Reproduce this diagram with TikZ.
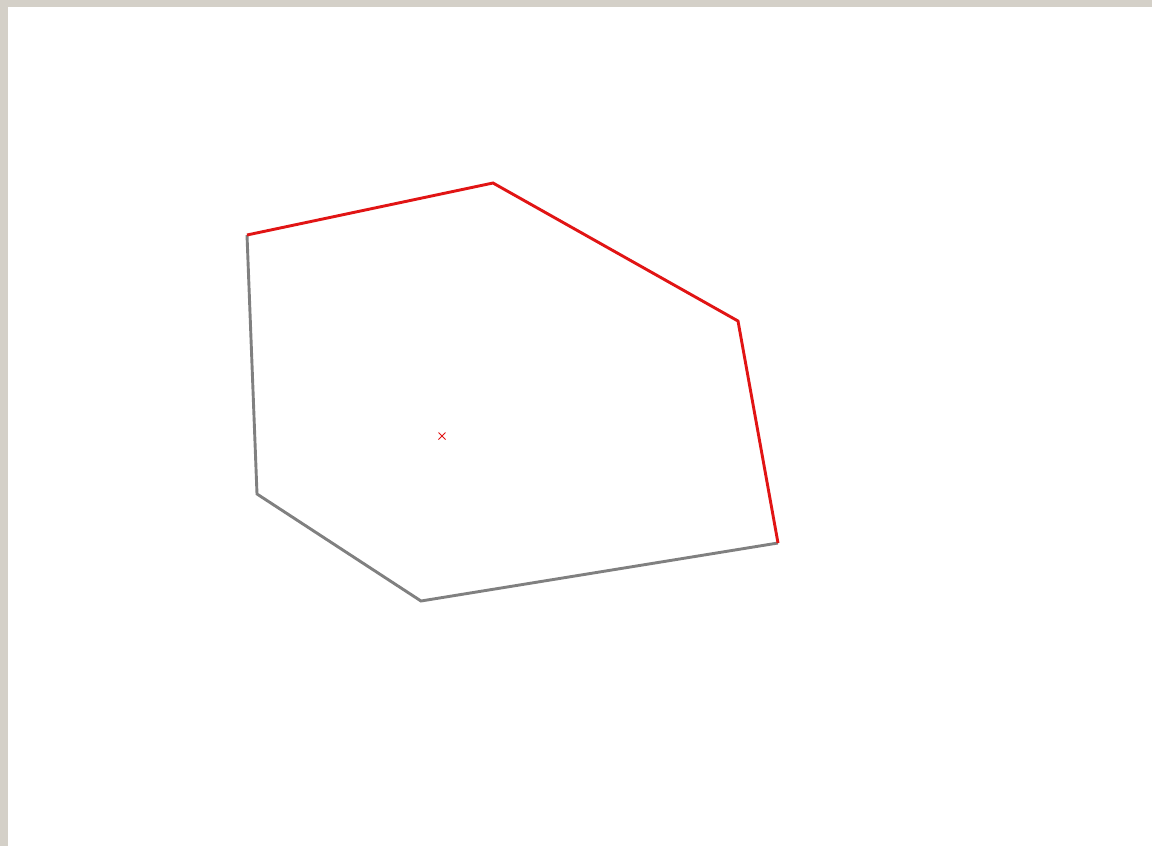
\documentclass[tikz,border=0pt]{standalone}
\definecolor{frame}{RGB}{212,208,200}
\definecolor{edgered}{RGB}{225,20,20}
\definecolor{edgegray}{RGB}{128,128,128}
\begin{document}
\begin{tikzpicture}[x=1pt,y=-1pt,
  redline/.style={draw=edgered,line width=2.9pt,line join=miter},
  grayline/.style={draw=edgegray,line width=2.9pt,line join=miter},
  xmark/.style={draw=edgered,line width=0.9pt}]
\useasboundingbox (0,0) rectangle (1152,846);
\fill[frame] (0,0) rectangle (1152,846);
\fill[white] (8,7) rectangle (1152,846);
\coordinate (A) at (247,235);
\coordinate (B) at (493,183);
\coordinate (C) at (738,321);
\coordinate (D) at (778,543);
\coordinate (E) at (421,601);
\coordinate (F) at (257,494);
\coordinate (M) at (442,436);
\draw[grayline] (D) -- (E) -- (F) -- (A);
\draw[redline] (A) -- (B) -- (C) -- (D);
\draw[xmark] ([shift={(-3.5,-3.5)}]M) -- ([shift={(3.5,3.5)}]M)
             ([shift={(-3.5,3.5)}]M) -- ([shift={(3.5,-3.5)}]M);
\end{tikzpicture}
\end{document}
